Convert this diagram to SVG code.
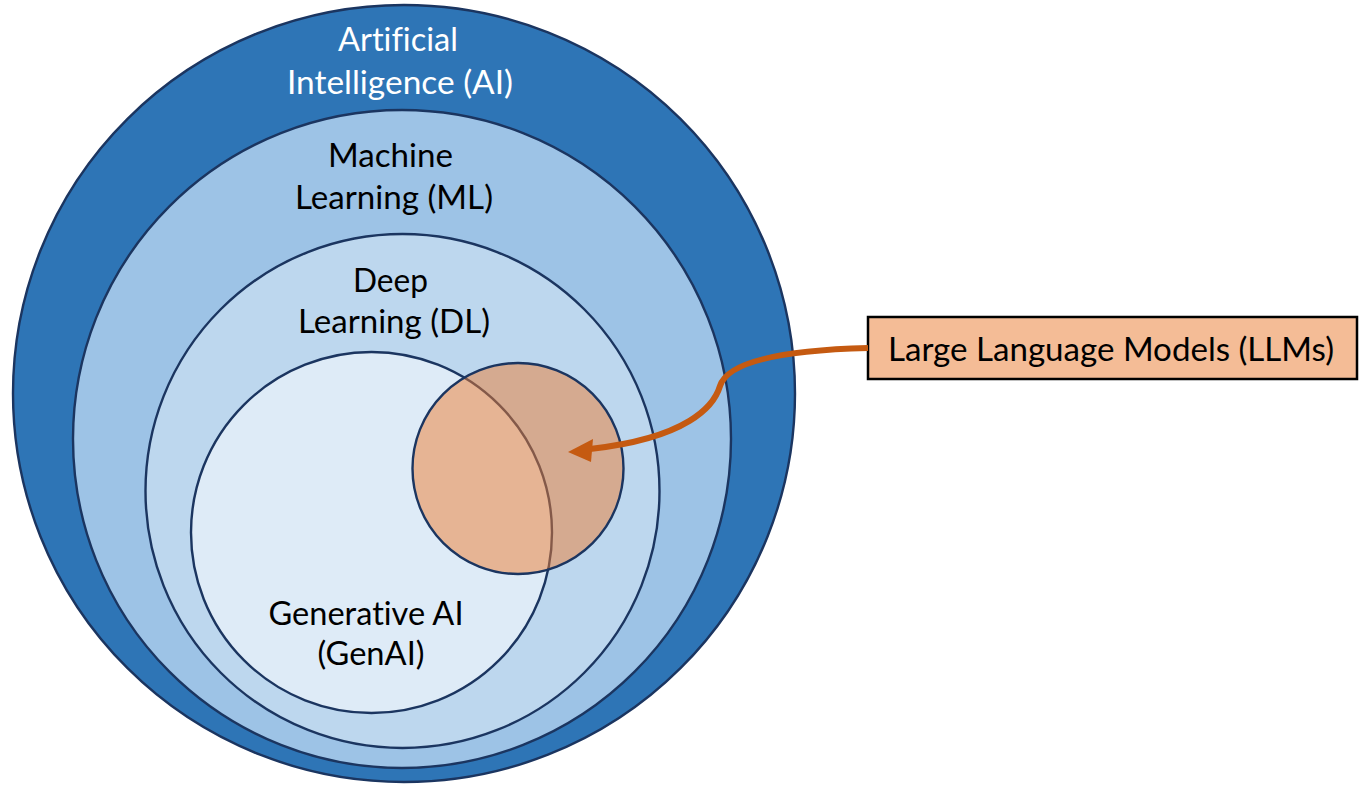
<svg xmlns="http://www.w3.org/2000/svg" width="1359" height="785" viewBox="0 0 1359 785">
  <style>
    .ring { stroke: #1B3560; stroke-width: 2.4; }
    .lbl { font-family: Lato, "Open Sans", "Liberation Sans", sans-serif; font-size: 33px; text-anchor: middle; fill: #000000; font-variant-ligatures: none; }
    .white { fill: #FFFFFF; }
  </style>
  <rect x="0" y="0" width="1359" height="785" fill="#FFFFFF"/>
  <g id="node-ai">
    <ellipse class="ring" cx="404" cy="393.5" rx="391" ry="388.5" fill="#2E75B6"/>
    <text class="lbl white" x="398" y="51" textLength="120" lengthAdjust="spacingAndGlyphs">Artificial</text>
    <text class="lbl white" x="400" y="94" textLength="226" lengthAdjust="spacingAndGlyphs">Intelligence (AI)</text>
  </g>
  <g id="node-ml">
    <circle class="ring" cx="402" cy="439" r="329" fill="#9DC3E6"/>
    <text class="lbl" x="390.5" y="167" textLength="125" lengthAdjust="spacingAndGlyphs">Machine</text>
    <text class="lbl" x="394" y="209" textLength="198" lengthAdjust="spacingAndGlyphs">Learning (ML)</text>
  </g>
  <g id="node-dl">
    <circle class="ring" cx="402.5" cy="491" r="257" fill="#BDD7EE"/>
    <text class="lbl" x="390.5" y="292" textLength="75" lengthAdjust="spacingAndGlyphs">Deep</text>
    <text class="lbl" x="394" y="333" textLength="192" lengthAdjust="spacingAndGlyphs">Learning (DL)</text>
  </g>
  <g id="node-genai">
    <circle class="ring" cx="371.5" cy="532.5" r="180.5" fill="#DEEBF7"/>
    <text class="lbl" x="366" y="625" textLength="195" lengthAdjust="spacingAndGlyphs">Generative AI</text>
    <text class="lbl" x="371" y="665" textLength="107" lengthAdjust="spacingAndGlyphs">(GenAI)</text>
  </g>
  <g id="node-llm-circle">
    <circle cx="518" cy="468.5" r="105.5" fill="#ED7D31" fill-opacity="0.5" stroke="#1B3560" stroke-width="2.4"/>
  </g>
  <g id="node-llm-box">
    <rect x="868" y="317" width="489" height="62" fill="#F4BC96" stroke="#000000" stroke-width="2.5"/>
    <text class="lbl" x="1111" y="361" textLength="446" lengthAdjust="spacingAndGlyphs">Large Language Models (LLMs)</text>
  </g>
  <g id="connectors">
    <path d="M 868 348 C 790 350 728 360 720 386 C 714 406 688 438 590 449" fill="none" stroke="#C55A11" stroke-width="6"/>
    <polygon points="568,452 593,439 591,462" fill="#C55A11"/>
  </g>
</svg>
